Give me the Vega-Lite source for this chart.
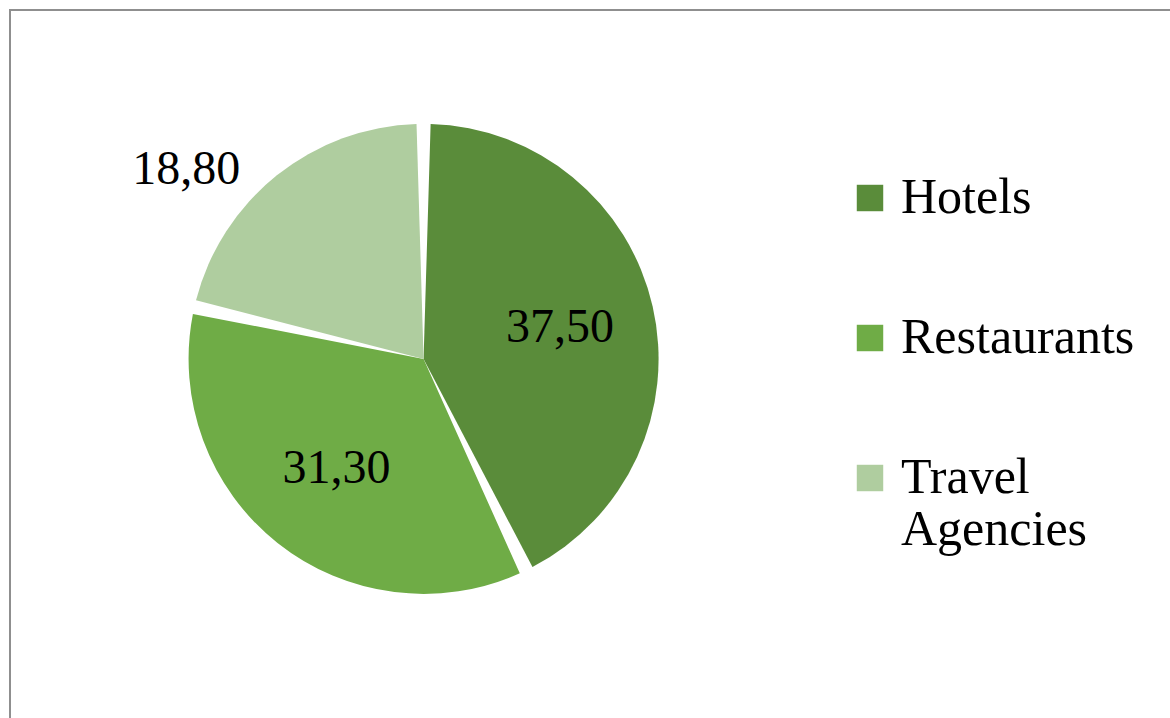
{
  "$schema": "https://vega.github.io/schema/vega-lite/v6.json",
  "width": 1165,
  "height": 712,
  "autosize": {"type": "none"},
  "padding": {"left": 10, "top": 10, "right": 0, "bottom": 0},
  "background": "white",
  "view": {"stroke": "#8f8f8f", "strokeWidth": 2},
  "config": {
    "view": {"stroke": "#8f8f8f", "strokeWidth": 2},
    "font": "Liberation Serif",
    "locale": {"number": {"decimal": ",", "thousands": ".", "grouping": [3], "currency": ["", ""]}}
  },
  "data": {
    "values": [
      {"category": "Hotels", "value": 37.5},
      {"category": "Restaurants", "value": 31.3},
      {"category": "Travel Agencies", "value": 18.8}
    ]
  },
  "encoding": {
    "theta": {"field": "value", "type": "quantitative", "stack": true},
    "order": {"field": "category", "type": "nominal"}
  },
  "layer": [
    {
      "mark": {"type": "arc", "outerRadius": 235, "padAngle": 0.06, "x": {"expr": "width*0.355"}, "y": {"expr": "height*0.49"}},
      "encoding": {
        "color": {
          "field": "category",
          "type": "nominal",
          "scale": {"domain": ["Hotels", "Restaurants", "Travel Agencies"], "range": ["#5a8c3a", "#6fac46", "#afcd9f"]},
          "legend": {
            "title": null,
            "orient": "none",
            "legendX": 835,
            "legendY": 163,
            "symbolType": "square",
            "symbolSize": 700,
            "symbolStrokeWidth": 0,
            "labelFont": "Liberation Serif",
            "labelFontSize": 50,
            "labelColor": "#000000",
            "labelLimit": 400,
            "labelOffset": 6,
            "rowPadding": 90,
            "labelExpr": "datum.label == 'Travel Agencies' ? ['Travel', 'Agencies'] : datum.label"
          }
        }
      }
    },
    {
      "mark": {"type": "text", "radius": 140, "font": "Liberation Serif", "fontSize": 48, "color": "#000000", "x": {"expr": "width*0.355"}, "y": {"expr": "height*0.49"}},
      "encoding": {
        "text": {"condition": {"test": "datum.category == 'Travel Agencies'", "value": ""}, "field": "value", "type": "quantitative", "format": ".2f"}
      }
    },
    {
      "mark": {"type": "text", "radius": 300, "dx": -50, "dy": 45, "font": "Liberation Serif", "fontSize": 48, "color": "#000000", "x": {"expr": "width*0.355"}, "y": {"expr": "height*0.49"}},
      "encoding": {
        "text": {"condition": {"test": "datum.category != 'Travel Agencies'", "value": ""}, "field": "value", "type": "quantitative", "format": ".2f"}
      }
    }
  ]
}
